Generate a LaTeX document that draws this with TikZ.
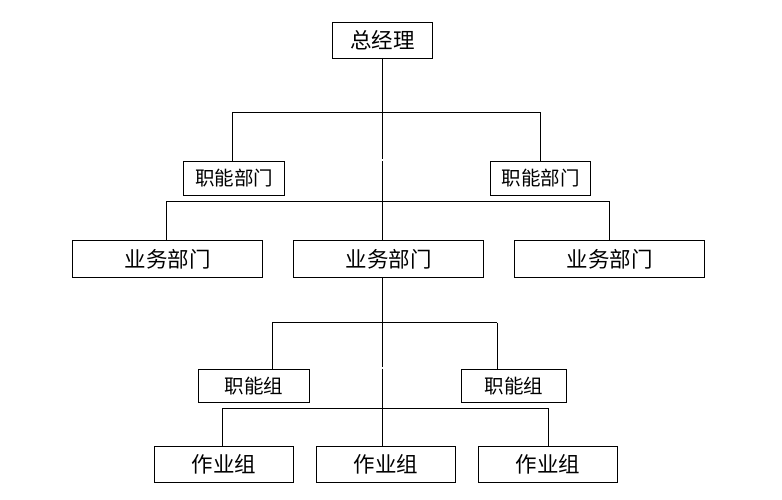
\documentclass[tikz,border=0pt]{standalone}
\usepackage{fontspec}
\newfontfamily\cjk{Noto Sans CJK SC}
\begin{document}
\begin{tikzpicture}[x=1pt,y=-1pt,
  box/.style={draw=black,line width=1pt,inner sep=0pt,anchor=north west,align=center},
  big/.style={font=\cjk\fontsize{21.5}{24}\selectfont},
  small/.style={font=\cjk\fontsize{19.5}{22}\selectfont},
  conn/.style={draw=black,line width=1pt}]
\useasboundingbox[fill=white] (0,0) rectangle (782,500);
% boxes
\node[box,big,minimum width=100pt,minimum height=36pt] (gm) at (332,22) {总经理};
\node[box,small,minimum width=101pt,minimum height=34pt] (f1) at (183,161) {职能部门};
\node[box,small,minimum width=100pt,minimum height=34pt] (f2) at (490,161) {职能部门};
\node[box,big,minimum width=190pt,minimum height=37pt] (b1) at (72,240) {业务部门};
\node[box,big,minimum width=190pt,minimum height=37pt] (b2) at (293,240) {业务部门};
\node[box,big,minimum width=190pt,minimum height=37pt] (b3) at (514,240) {业务部门};
\node[box,small,minimum width=111pt,minimum height=33pt] (g1) at (198,369) {职能组};
\node[box,small,minimum width=105pt,minimum height=33pt] (g2) at (461,369) {职能组};
\node[box,big,minimum width=139pt,minimum height=36pt] (w1) at (154,446) {作业组};
\node[box,big,minimum width=139pt,minimum height=36pt] (w2) at (316,446) {作业组};
\node[box,big,minimum width=139pt,minimum height=36pt] (w3) at (478,446) {作业组};
% junction coordinates
\coordinate (t1) at (382,58);
\coordinate (t2) at (382,159.5);
\coordinate (t3) at (382,161.5);
\coordinate (ja) at (232,112.5);
\coordinate (jb) at (540,112.5);
\coordinate (ka) at (166,201);
\coordinate (kb) at (609,201);
\coordinate (m1) at (382,277);
\coordinate (m2) at (382,366.5);
\coordinate (m3) at (382,368.5);
\coordinate (pa) at (272,322.5);
\coordinate (pb) at (497,322.5);
\coordinate (qa) at (222,408);
\coordinate (qb) at (548,408);
% connectors
\draw[conn] (t1) -- (t2);
\draw[conn] (t3) -- (t3 |- b2.north);
\draw[conn] (ja) -- (jb);
\draw[conn] (ja) -- (ja |- f1.north);
\draw[conn] (jb) -- (jb |- f2.north);
\draw[conn] (ka) -- (kb);
\draw[conn] (ka) -- (ka |- b1.north);
\draw[conn] (kb) -- (kb |- b3.north);
\draw[conn] (m1) -- (m2);
\draw[conn] (m3) -- (m3 |- w2.north);
\draw[conn] (pa) -- (pb);
\draw[conn] (pa) -- (pa |- g1.north);
\draw[conn] (pb) -- (pb |- g2.north);
\draw[conn] (qa) -- (qb);
\draw[conn] (qa) -- (qa |- w1.north);
\draw[conn] (qb) -- (qb |- w3.north);
\end{tikzpicture}
\end{document}
